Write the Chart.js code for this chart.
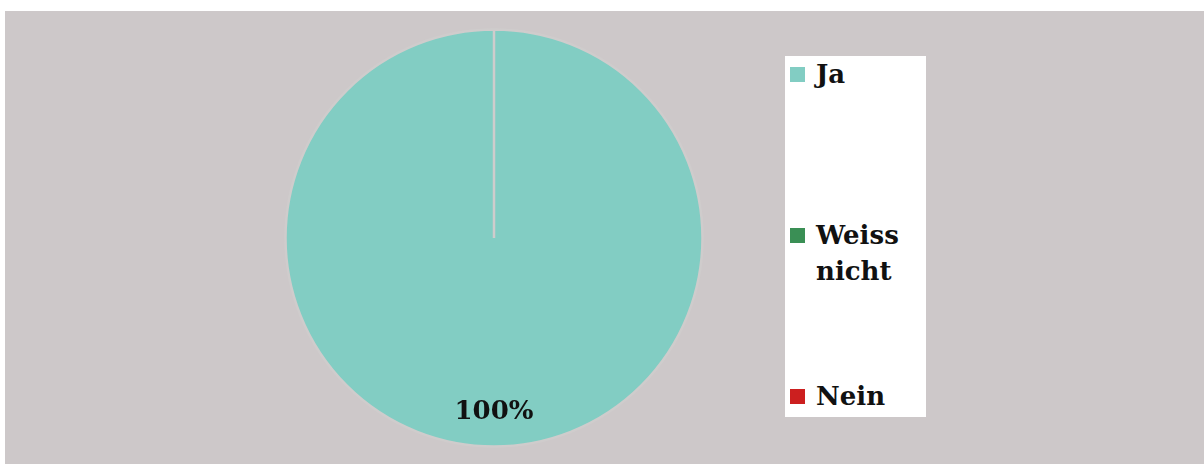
<!DOCTYPE html>
<html>
<head>
<meta charset="utf-8">
<script src="https://cdn.jsdelivr.net/npm/chart.js@4/dist/chart.umd.min.js"></script>
<style>
  html, body { margin: 0; padding: 0; background: #ffffff; }
  body { width: 1204px; height: 464px; position: relative; overflow: hidden; }
  #panel { position: absolute; left: 5px; top: 11px; width: 1199px; height: 453px; background: #cdc8c9; }
  #chartBox { position: absolute; left: 0; top: 0; width: 1199px; height: 453px; }
  #legend { position: absolute; left: 780px; top: 45px; width: 141px; height: 361px; background: #ffffff; }
  .item { position: absolute; left: 0; width: 141px; font-family: "DejaVu Serif", serif; font-weight: bold; font-size: 26px; line-height: 36px; color: #111111; }
  .item .mk { position: absolute; left: 5px; top: 11px; width: 15px; height: 15px; }
  .item .tx { position: absolute; left: 31px; top: 0; width: 110px; }
</style>
</head>
<body>
<div id="panel">
  <div id="chartBox"><canvas id="c"></canvas></div>
  <div id="legend"></div>
</div>
<script>
const categories = ["Ja", "Weiss nicht", "Nein"];
const legendLines = [["Ja"], ["Weiss", "nicht"], ["Nein"]];
const values = [100, 0, 0];
const colors = ["#82cdc3", "#3a8f55", "#cc1f1f"];
const valueLabels = ["100%", "", ""];

// legend (HTML)
const legendTops = [0, 161, 322];
const lg = document.getElementById('legend');
categories.forEach((cat, i) => {
  const d = document.createElement('div');
  d.className = 'item';
  d.style.top = legendTops[i] + 'px';
  const mk = document.createElement('div');
  mk.className = 'mk';
  mk.style.background = colors[i];
  const tx = document.createElement('div');
  tx.className = 'tx';
  tx.innerHTML = legendLines[i].join('<br>');
  d.appendChild(mk); d.appendChild(tx);
  lg.appendChild(d);
});

const labelPlugin = {
  id: 'valueLabels',
  afterDatasetsDraw(chart) {
    const ctx = chart.ctx;
    const meta = chart.getDatasetMeta(0);
    meta.data.forEach((arc, i) => {
      if (!valueLabels[i]) return;
      const p = arc.getProps(['x', 'y', 'startAngle', 'endAngle', 'outerRadius'], true);
      const mid = (p.startAngle + p.endAngle) / 2;
      const r = p.outerRadius * 0.835;
      ctx.save();
      ctx.font = 'bold 26px "DejaVu Serif", serif';
      ctx.fillStyle = '#111111';
      ctx.textAlign = 'center';
      ctx.textBaseline = 'middle';
      ctx.fillText(valueLabels[i], p.x + Math.cos(mid) * r, p.y + Math.sin(mid) * r);
      ctx.restore();
    });
  }
};

new Chart(document.getElementById('c'), {
  type: 'pie',
  data: {
    labels: categories,
    datasets: [{
      data: values,
      backgroundColor: colors,
      borderColor: '#cfcccc',
      borderWidth: [2.5, 0, 0]
    }]
  },
  options: {
    responsive: true,
    maintainAspectRatio: false,
    animation: false,
    layout: { padding: { left: 279.25, right: 500.25, top: 17.25, bottom: 16.25 } },
    plugins: {
      legend: { display: false },
      tooltip: { enabled: false }
    }
  },
  plugins: [labelPlugin]
});
</script>
</body>
</html>
